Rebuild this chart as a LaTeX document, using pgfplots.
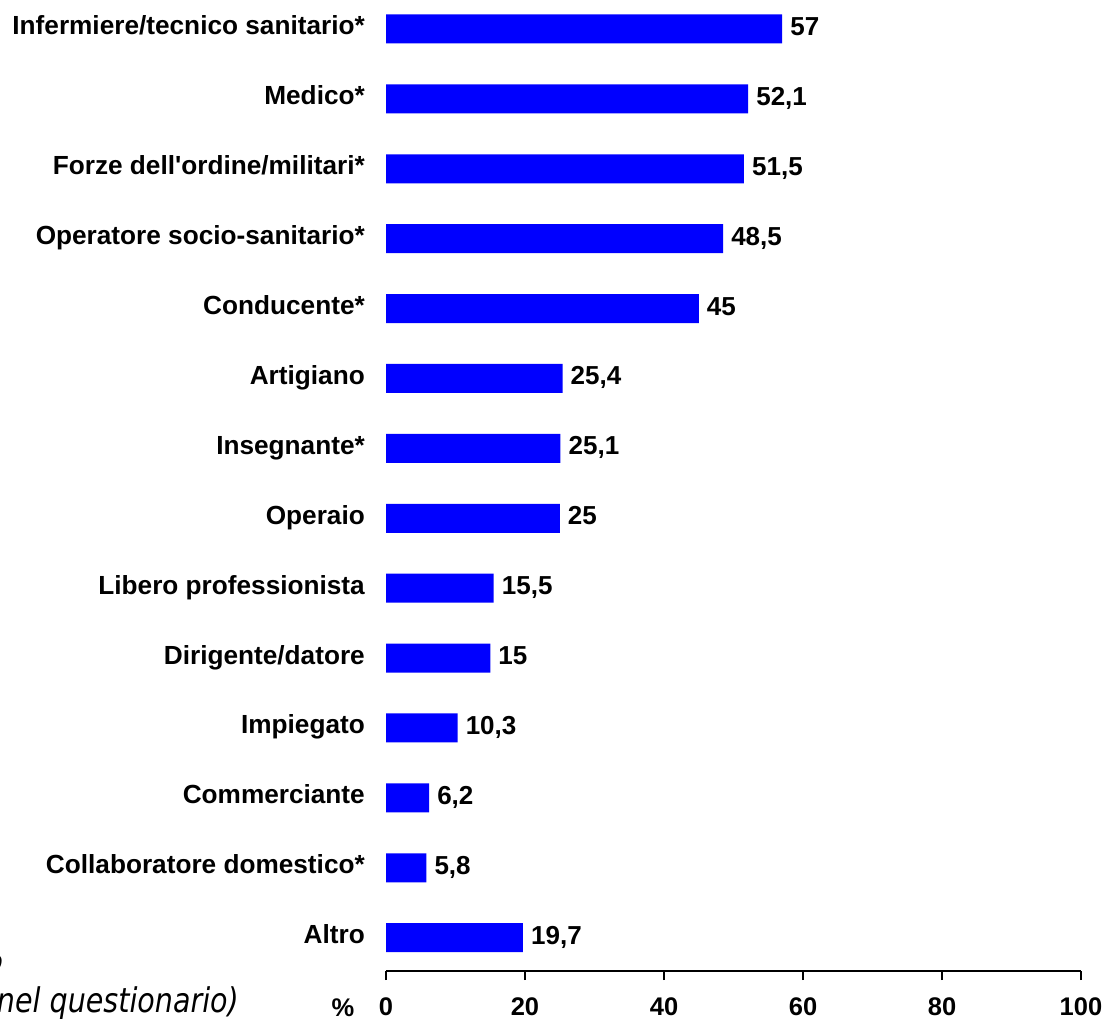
\documentclass[border=0pt]{standalone}
\usepackage{fontspec}
\setmainfont{Liberation Sans}
\newfontfamily\itfont[FakeStretch=0.84]{DejaVu Sans}
\usepackage{pgfplots}
\pgfplotsset{compat=1.18}
\definecolor{barblue}{RGB}{0,0,255}
\begin{document}
\begin{tikzpicture}[x=1pt,y=1pt]
\useasboundingbox (0,0) rectangle (1108,1021);
\begin{axis}[
  at={(386pt,50pt)}, anchor=south west,
  scale only axis, width=695pt, height=970pt,
  xbar, bar width=29pt,
  xmin=0, xmax=100, ymin=-0.4, ymax=13.477, y dir=reverse,
  axis x line*=bottom, axis y line*=left,
  y axis line style={draw=none},
  x axis line style={line width=2pt},
  xtick={0,20,40,60,80,100},
  tick align=outside,
  major x tick style={line width=2pt, black},
  major tick length=9pt,
  ytick={0,...,13},
  y tick style={draw=none},
  yticklabels={Infermiere/tecnico sanitario*, Medico*, Forze dell\textquotesingle ordine/militari*, Operatore socio-sanitario*, Conducente*, Artigiano, Insegnante*, Operaio, Libero professionista, Dirigente/datore, Impiegato, Commerciante, Collaboratore domestico*, Altro},
  yticklabel style={font=\fontsize{26.2}{30}\selectfont\bfseries, anchor=base east, inner sep=0pt, xshift=-12pt, yshift=-6pt},
  xticklabel style={font=\fontsize{25.5}{30}\selectfont\bfseries, yshift=-14.5pt},
  /pgf/number format/assume math mode=true,
  nodes near coords,
  nodes near coords style={font=\fontsize{26}{30}\selectfont\bfseries, anchor=base west, inner sep=0pt, xshift=8pt, yshift=-6.5pt, /pgf/number format/use comma, /pgf/number format/assume math mode=true},
  clip=false,
]
\addplot[fill=barblue, draw=none] coordinates {
(57,0) (52.1,1) (51.5,2) (48.5,3) (45,4) (25.4,5) (25.1,6) (25,7)
(15.5,8) (15,9) (10.3,10) (6.2,11) (5.8,12) (19.7,13)};
\end{axis}
\node[anchor=base, inner sep=0pt, font=\fontsize{25.5}{30}\selectfont\bfseries] at (343,5) {\%};
\node[anchor=base east, inner sep=0pt, font=\fontsize{34}{40}\selectfont\itfont\itshape] at (239,9) {(indicate nel questionario)};
\node[anchor=base east, inner sep=0pt, font=\fontsize{27}{32}\selectfont\itfont\itshape] at (3,51) {o};
\end{tikzpicture}
\end{document}
